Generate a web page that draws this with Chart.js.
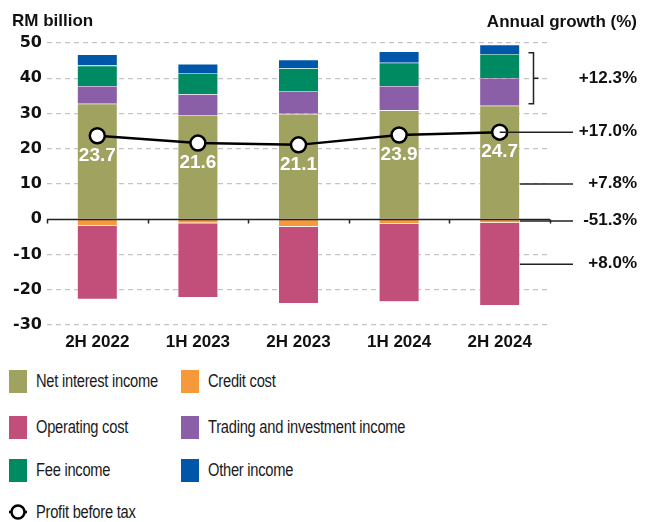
<!DOCTYPE html>
<html>
<head>
<meta charset="utf-8">
<script src="https://cdn.jsdelivr.net/npm/chart.js@4.4.1/dist/chart.umd.min.js"></script>
<style>
  body { margin: 0; background: #fff; font-family: "Liberation Sans", Arial, sans-serif; color: #1a1a1a; }
  #wrap { position: relative; width: 654px; height: 522px; }
  #chartBox { position: absolute; left: 0; top: 0; width: 654px; height: 355px; }
  .lg { position: absolute; display: flex; align-items: center; font-size: 17.5px; letter-spacing: -0.3px; white-space: nowrap; }
  .lg .sw { width: 18px; height: 23px; margin-right: 9px; flex: none; }
  .lg svg { margin-right: 9px; flex: none; }
  .lg .tx { display: inline-block; transform: scaleX(0.84); transform-origin: left center; }
</style>
</head>
<body>
<div id="wrap">
  <div id="chartBox"><canvas id="myChart"></canvas></div>
  <div id="legend"></div>
</div>
<script>
const periods = ['2H 2022', '1H 2023', '2H 2023', '1H 2024', '2H 2024'];
const netInterest = [32.8, 29.6, 29.9, 30.9, 32.2];
const creditCost = [-1.9, -1.1, -2.1, -1.3, -1.0];
const operatingCost = [-20.8, -21.1, -21.8, -22.1, -23.5];
const tradingInvest = [5.0, 5.9, 6.5, 6.9, 7.9];
const feeIncome = [5.8, 6.0, 6.5, 6.6, 6.8];
const otherIncome = [3.2, 2.6, 2.4, 3.2, 2.6];
const profitBeforeTax = [23.7, 21.6, 21.1, 23.9, 24.7];
const growthLabels = ['+12.3%', '+17.0%', '+7.8%', '-51.3%', '+8.0%'];
const yTicks = [-30, -20, -10, 0, 10, 20, 30, 40, 50];

const colors = {
  nii: '#a0a35f',
  credit: '#f6993a',
  opex: '#c14f7a',
  trading: '#8a5fa7',
  fee: '#008a62',
  other: '#0057aa'
};

const bold17 = { family: 'Liberation Sans', size: 17, weight: 'bold' };
const tickFont = { family: 'DejaVu Sans', size: 16, weight: 'bold' };

const extras = {
  id: 'extras',
  afterDatasetsDraw(chart) {
    const { ctx, chartArea: a, scales: { y } } = chart;
    const y0 = Math.round(y.getPixelForValue(0)) + 0.5;
    ctx.save();
    ctx.strokeStyle = '#222';
    ctx.lineWidth = 1.5;
    ctx.beginPath();
    ctx.moveTo(a.left, y0);
    ctx.lineTo(a.right, y0);
    const step = a.width / periods.length;
    for (let i = 0; i <= periods.length; i++) {
      const xb = Math.round(a.left + i * step) + 0.5;
      ctx.moveTo(xb, y0);
      ctx.lineTo(xb, y0 + 4);
    }
    ctx.stroke();
    ctx.restore();
  },
  afterDraw(chart) {
    const { ctx, scales: { y } } = chart;
    const line = chart.getDatasetMeta(6).data;
    ctx.save();
    // values under the profit markers
    ctx.fillStyle = '#fff';
    ctx.font = 'bold 19px "Liberation Sans"';
    ctx.textAlign = 'center';
    ctx.textBaseline = 'middle';
    line.forEach((pt, i) => {
      ctx.fillText(profitBeforeTax[i].toFixed(1), pt.x, pt.y + 20);
    });

    // growth call-outs on the right
    const li = periods.length - 1;
    const bar = chart.getDatasetMeta(0).data[li];
    const barRight = bar.x + bar.width / 2;
    const leadEnd = 573;
    const textX = 637;
    ctx.strokeStyle = '#222';
    ctx.lineWidth = 1.5;
    ctx.fillStyle = '#111';
    ctx.font = 'bold 17px "Liberation Sans"';
    ctx.textAlign = 'right';

    // bracket over non-interest income
    const topV = netInterest[li] + tradingInvest[li] + feeIncome[li] + otherIncome[li];
    const bTop = y.getPixelForValue(topV) + 8;
    const bBot = y.getPixelForValue(netInterest[li]) - 2;
    const bx = 533.5;
    const bMid = (bTop + bBot) / 2;
    ctx.beginPath();
    ctx.moveTo(bx - 5, bTop); ctx.lineTo(bx, bTop); ctx.lineTo(bx, bBot); ctx.lineTo(bx - 5, bBot);
    ctx.moveTo(bx, bMid); ctx.lineTo(bx + 5, bMid);
    ctx.stroke();
    ctx.fillText(growthLabels[0], textX, bMid);

    const leaders = [
      { y: line[li].y, x0: line[li].x, label: growthLabels[1] },
      { y: y.getPixelForValue(10), x0: barRight, label: growthLabels[2] },
      { y: y.getPixelForValue(creditCost[li] / 2), x0: barRight, label: growthLabels[3] },
      { y: y.getPixelForValue(creditCost[li] + operatingCost[li] / 2), x0: barRight, label: growthLabels[4] }
    ];
    leaders.forEach(l => {
      ctx.beginPath();
      ctx.moveTo(l.x0, l.y);
      ctx.lineTo(leadEnd, l.y);
      ctx.stroke();
      ctx.fillText(l.label, textX, l.y - 1);
    });

    // titles
    ctx.textAlign = 'left';
    ctx.fillText('RM billion', 12, 21);
    ctx.textAlign = 'right';
    ctx.fillText('Annual growth (%)', textX, 22);
    ctx.restore();
  }
};

const barSet = (label, data, color) => ({
  type: 'bar', label, data, backgroundColor: color,
  borderColor: 'rgba(255,255,255,0.5)', borderWidth: 0.6,
  stack: 'pl', barPercentage: 0.4, categoryPercentage: 1
});

const ctx = document.getElementById('myChart');
const chart = new Chart(ctx, {
  data: {
    labels: periods,
    datasets: [
      barSet('Net interest income', netInterest, colors.nii),
      barSet('Credit cost', creditCost, colors.credit),
      barSet('Operating cost', operatingCost, colors.opex),
      barSet('Trading and investment income', tradingInvest, colors.trading),
      barSet('Fee income', feeIncome, colors.fee),
      barSet('Other income', otherIncome, colors.other),
      {
        type: 'line', label: 'Profit before tax', data: profitBeforeTax, stack: 'pbt',
        borderColor: '#000', borderWidth: 2.5, backgroundColor: '#fff',
        pointRadius: 7.5, pointBorderWidth: 2.5, pointBackgroundColor: '#fff',
        pointBorderColor: '#000', order: -1
      }
    ]
  },
  options: {
    responsive: true,
    maintainAspectRatio: false,
    animation: false,
    layout: { padding: { top: 43, right: 104, left: 0, bottom: 0 } },
    plugins: { legend: { display: false }, tooltip: { enabled: false } },
    scales: {
      x: {
        stacked: true,
        grid: { display: false, drawTicks: false },
        border: { display: false },
        ticks: { color: '#111', font: bold17, padding: 7 },
        afterFit: s => { s.height = 30; }
      },
      y: {
        stacked: true,
        min: -30, max: 50,
        afterBuildTicks: s => { s.ticks = yTicks.map(v => ({ value: v })); },
        grid: {
          color: c => c.tick.value === 0 ? 'rgba(0,0,0,0)' : '#c4c4c4',
          lineWidth: 1.2, drawTicks: false
        },
        border: { display: false, dash: [5, 4] },
        ticks: { color: '#111', font: tickFont, padding: 5 },
        afterFit: s => { s.width = 47; }
      }
    }
  },
  plugins: [extras]
});

// legend
const legendItems = [
  { label: 'Net interest income', color: colors.nii, x: 9, y: 381 },
  { label: 'Credit cost', color: colors.credit, x: 181, y: 381 },
  { label: 'Operating cost', color: colors.opex, x: 9, y: 427 },
  { label: 'Trading and investment income', color: colors.trading, x: 181, y: 427 },
  { label: 'Fee income', color: colors.fee, x: 9, y: 470 },
  { label: 'Other income', color: colors.other, x: 181, y: 470 },
  { label: 'Profit before tax', marker: true, x: 9, y: 512 }
];
const legend = document.getElementById('legend');
legendItems.forEach(it => {
  const el = document.createElement('div');
  el.className = 'lg';
  el.style.left = it.x + 'px';
  el.style.top = (it.y - 12) + 'px';
  el.style.height = '24px';
  const mk = it.marker
    ? '<svg width="18" height="18" viewBox="0 0 18 18"><line x1="0" y1="9" x2="18" y2="9" stroke="#000" stroke-width="2.5"/><circle cx="9" cy="9" r="6.5" fill="#fff" stroke="#000" stroke-width="2.5"/></svg>'
    : '<span class="sw" style="background:' + it.color + '"></span>';
  el.innerHTML = mk + '<span class="tx">' + it.label + '</span>';
  legend.appendChild(el);
});
</script>
</body>
</html>
